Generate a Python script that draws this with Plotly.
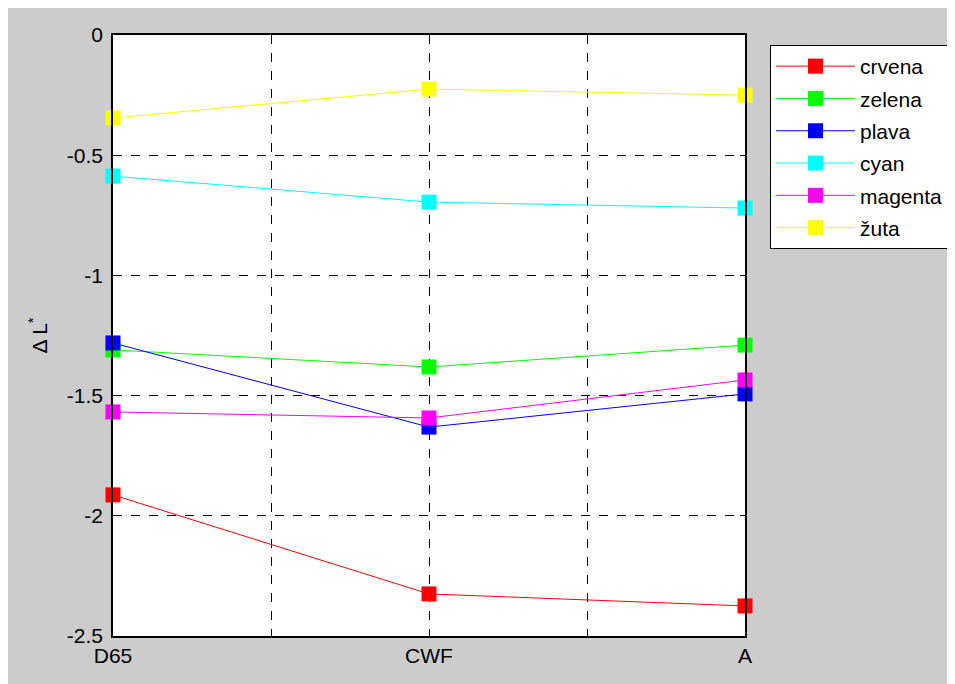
import plotly.graph_objects as go

categories = ["D65", "CWF", "A"]
x_pos = [1, 2, 3]
series_names = ["crvena", "zelena", "plava", "cyan", "magenta", "žuta"]
crvena = [-1.913, -2.325, -2.375]
zelena = [-1.31, -1.381, -1.29]
plava = [-1.281, -1.631, -1.493]
cyan = [-0.587, -0.695, -0.72]
magenta = [-1.568, -1.593, -1.435]
zuta = [-0.345, -0.225, -0.25]
colors = ["#ff0000", "#00ff00", "#0000ff", "#00ffff", "#ff00ff", "#ffff00"]
y_ticks = [0, -0.5, -1, -1.5, -2, -2.5]
y_tick_labels = ["0", "-0.5", "-1", "-1.5", "-2", "-2.5"]

values = [crvena, zelena, plava, cyan, magenta, zuta]

fig = go.Figure()
for i, (name, vals, col) in enumerate(zip(series_names, values, colors)):
    fig.add_trace(go.Scatter(
        x=x_pos, y=vals, name=name, mode="lines+markers",
        line=dict(color=col, width=1),
        marker=dict(symbol="square", size=15, color=col),
        legendgroup=name, cliponaxis=False,
    ))

OFF = 8
W, H = 955, 684
L, T = 113 - OFF, 35 - OFF
R = W - (745 - OFF)
B = H - (636 - OFF)
pw, ph = W - L - R, H - T - B

def px_x(p):
    return (p - OFF - L) / pw

def px_y(p):
    return 1 - (p - OFF - T) / ph

grid = dict(showgrid=True, gridcolor="#000000", griddash="dash", gridwidth=1)

fig.update_layout(
    width=W, height=H,
    margin=dict(l=L, r=R, t=T, b=B, pad=0),
    paper_bgcolor="#cccccc",
    plot_bgcolor="#ffffff",
    font=dict(family="Liberation Sans, Arial", size=21, color="#000000"),
    showlegend=True,
    legend=dict(
        x=px_x(770), y=px_y(45), xanchor="left", yanchor="top",
        bgcolor="#ffffff", bordercolor="#000000", borderwidth=1,
        font=dict(size=21), tracegroupgap=2, itemwidth=79,
    ),
    xaxis=dict(
        range=[1, 3], tickvals=x_pos, ticktext=categories,
        **grid,
        minor=dict(tick0=1, dtick=0.5, showgrid=True, gridcolor="#000000",
                   griddash="dash", gridwidth=1, ticks="inside", ticklen=5,
                   tickcolor="#000000"),
        showline=True, linecolor="#000000", linewidth=1.5, mirror="ticks",
        ticks="inside", ticklen=5, tickcolor="#000000",
        zeroline=False,
    ),
    yaxis=dict(
        range=[-2.5, 0], tickvals=y_ticks, ticktext=y_tick_labels,
        **grid,
        showline=True, linecolor="#000000", linewidth=1.5, mirror="ticks",
        ticks="inside", ticklen=5, tickcolor="#000000",
        ticklabelstandoff=4,
        zeroline=False,
        title=dict(text="Δ L<sup>*</sup>", standoff=14, font=dict(size=21)),
    ),
)

fig.write_html("out.html")
